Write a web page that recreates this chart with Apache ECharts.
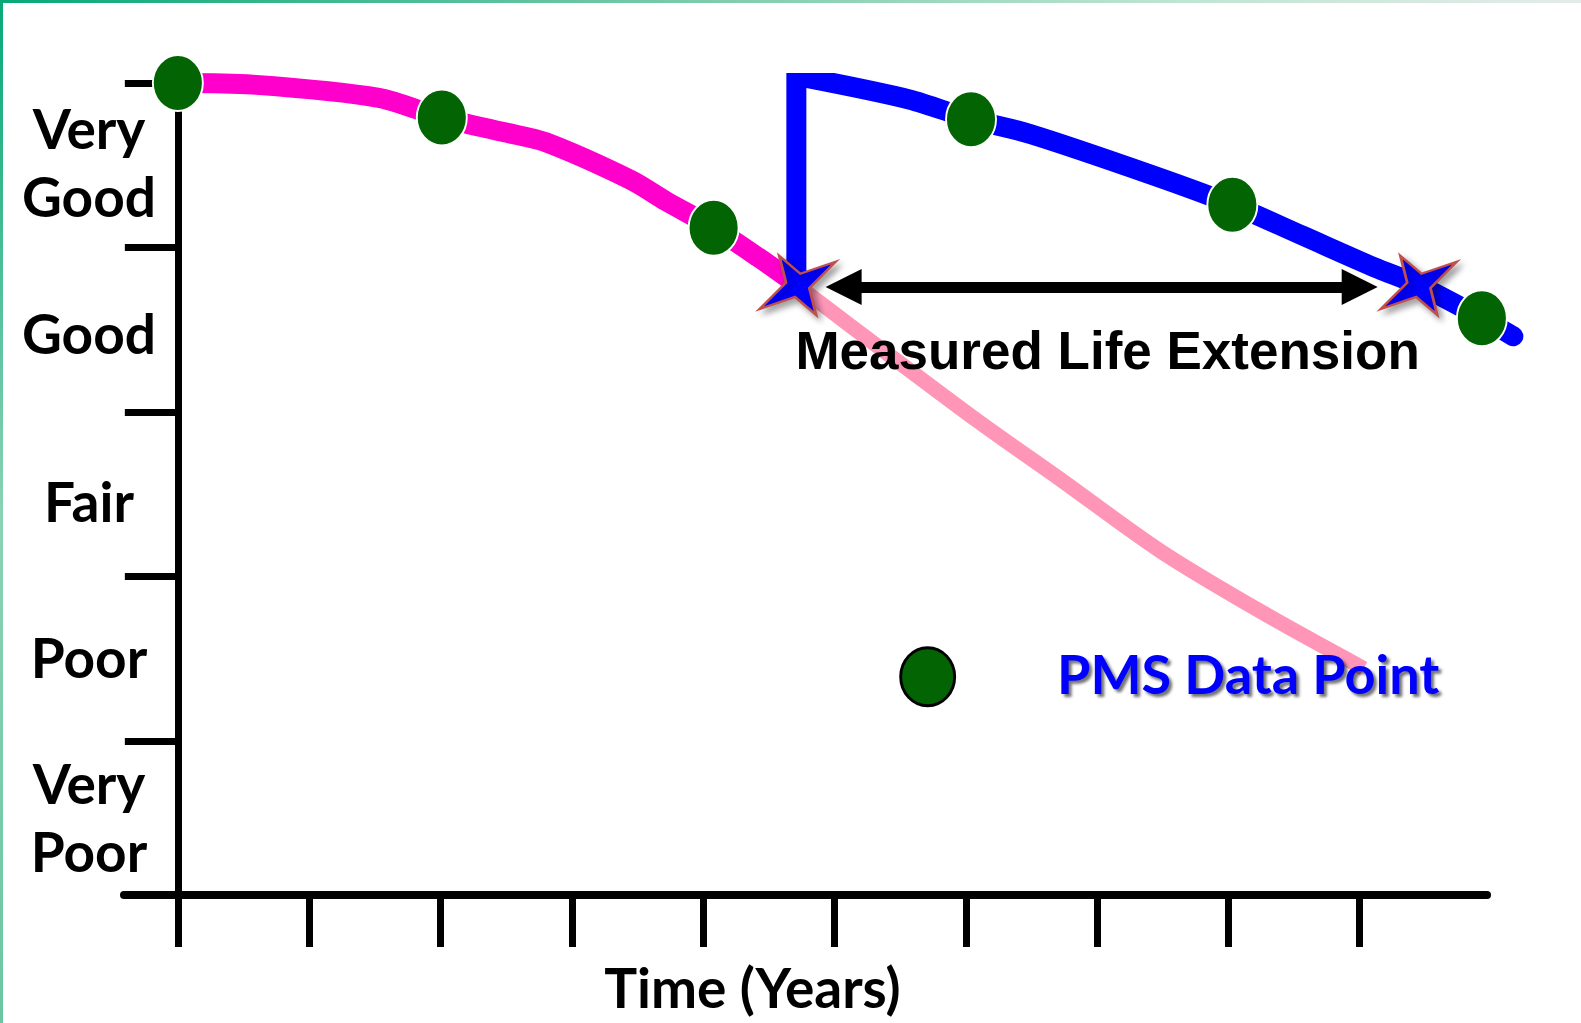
<!DOCTYPE html>
<html>
<head>
<meta charset="utf-8">
<script src="https://cdn.jsdelivr.net/npm/echarts@6/dist/echarts.min.js"></script>
<style>
html,body{margin:0;padding:0;background:#fff;}
#chart{width:1581px;height:1023px;}
</style>
</head>
<body>
<div id="chart"></div>
<script>
// ---- data (x: years, y: condition level) ----
const xTicks = [0, 1, 2, 3, 4, 5, 6, 7, 8, 9];
const yTicks = [1, 2, 3, 4, 5];
const yLabelValues = [0.52, 1.49, 2.44, 3.46, 4.5];
const yLevels = ['Very\nPoor', 'Poor', 'Fair', 'Good', 'Very\nGood'];
const originalCurve = [[0, 5.0], [0.57, 4.99], [1.53, 4.91], [2.01, 4.79], [2.49, 4.70], [2.80, 4.64], [3.45, 4.41], [3.72, 4.28], [4.08, 4.12], [4.42, 3.94], [4.72, 3.77]];
const untreatedCurve = [[4.72, 3.77], [4.88, 3.67], [6.10, 2.94], [6.72, 2.59], [7.49, 2.15], [8.26, 1.78], [9.03, 1.44]];
const treatmentJump = [[4.71, 3.77], [4.71, 5.03], [4.80, 5.03]];
const treatedCurve = [[4.80, 5.03], [5.57, 4.90], [6.04, 4.78], [6.49, 4.69], [7.42, 4.44], [8.03, 4.26], [8.57, 4.07], [9.11, 3.88], [9.45, 3.77], [9.93, 3.57], [10.17, 3.46]];
const pmsPoints = [[0, 5.0], [2.01, 4.79], [4.08, 4.12], [6.04, 4.78], [8.03, 4.26], [9.93, 3.57]];
const thresholdMarks = [[4.72, 3.77], [9.45, 3.77]];
const lifeExtension = [[5.07, 3.76], [9.0, 3.76]];
const legendPoint = [[5.71, 1.39]];
const annotationPoint = [[7.08, 3.35]];

const starPath = 'path://M38.2,-23.8 L11.7,2.7 L18.5,29.7 L-2.7,11.7 L-38.2,23.8 L-11.7,-2.7 L-18.5,-29.7 L2.7,-11.7 Z';
const triPath = 'path://M0,-10 L10,10 L-10,10 Z';

const chart = echarts.init(document.getElementById('chart'), null, {renderer: 'canvas'});
chart.setOption({
  backgroundColor: '#ffffff',
  animation: false,
  graphic: [
    {type: 'rect', shape: {x: 0, y: 0, width: 1581, height: 3}, z: 100,
     style: {fill: new echarts.graphic.LinearGradient(0, 0, 1, 0, [
       {offset: 0, color: '#08A878'}, {offset: 0.45, color: '#7FCCAC'},
       {offset: 0.75, color: '#BFE5D3'}, {offset: 1, color: '#E4ECE8'}])}},
    {type: 'rect', shape: {x: 0, y: 0, width: 3, height: 1023}, z: 100,
     style: {fill: new echarts.graphic.LinearGradient(0, 0, 0, 1, [
       {offset: 0, color: '#08A878'}, {offset: 0.5, color: '#8AD2B4'},
       {offset: 1, color: '#6CC6A2'}])}}
  ],
  grid: [
    {left: 124, right: 44, top: 83, bottom: 126, containLabel: false},
    {left: 124, right: 94, top: 83, bottom: 126, containLabel: false}
  ],
  xAxis: [
    {
      gridIndex: 0, type: 'value', min: -0.41, max: 10.35,
      axisLine: {show: false},
      axisTick: {show: true, customValues: xTicks, length: 50, lineStyle: {color: '#000', width: 7}},
      axisLabel: {show: false},
      splitLine: {show: false}
    },
    {
      gridIndex: 1, type: 'value', min: 0, max: 1,
      axisLine: {show: true, onZero: false, lineStyle: {color: '#000', width: 8}},
      axisTick: {show: false}, axisLabel: {show: false}, splitLine: {show: false},
      name: 'Time (Years)', nameLocation: 'middle', nameGap: 68,
      nameTextStyle: {fontFamily: 'Lato', fontWeight: 'bold', fontSize: 55, color: '#000', padding: [0, 106, 0, 0]}
    }
  ],
  yAxis: [
    {
      gridIndex: 0, type: 'value', min: 0.051, max: 5,
      axisLine: {show: true, onZero: true, lineStyle: {color: '#000', width: 7}},
      axisTick: {show: true, customValues: yTicks, length: 53, lineStyle: {color: '#000', width: 7}},
      axisLabel: {show: false},
      splitLine: {show: false}
    },
    {
      gridIndex: 0, type: 'value', min: 0.051, max: 5, position: 'left',
      axisLine: {show: false, onZero: false}, axisTick: {show: false},
      splitLine: {show: false},
      axisLabel: {show: true, customValues: yLabelValues, align: 'center', margin: 35,
        formatter: (v) => yLevels[yLabelValues.indexOf(v)],
        fontFamily: 'Lato', fontWeight: 'bold', fontSize: 55, lineHeight: 68, color: '#000'}
    },
    {
      gridIndex: 1, type: 'value', min: 0, max: 1, show: false
    }
  ],
  series: [
    {type: 'line', data: untreatedCurve, smooth: 0.3, symbol: 'none', z: 2,
     lineStyle: {color: '#FF96B8', width: 15, cap: 'butt'}},
    {type: 'line', data: originalCurve, smooth: 0.3, symbol: 'none', z: 3,
     lineStyle: {color: '#FF00CC', width: 20, cap: 'butt'}},
    {type: 'line', data: treatmentJump, symbol: 'none', z: 3,
     lineStyle: {color: '#0000FF', width: 20, cap: 'butt', join: 'miter'}},
    {type: 'line', data: treatedCurve, smooth: 0.3, symbol: 'none', z: 3,
     lineStyle: {color: '#0000FF', width: 20, cap: 'round'}},
    {type: 'lines', coordinateSystem: 'cartesian2d', z: 4,
     symbol: [triPath, triPath], symbolSize: [36, 36],
     lineStyle: {color: '#000', width: 11, opacity: 1, curveness: 0},
     itemStyle: {color: '#000'},
     data: [{coords: lifeExtension}]},
    {type: 'scatter', data: pmsPoints, symbol: 'circle', symbolSize: [50, 56], z: 5,
     itemStyle: {color: '#026402', borderColor: '#ffffff', borderWidth: 2, opacity: 1}},
    {type: 'scatter', data: thresholdMarks, symbol: starPath, symbolSize: [76, 59], z: 6,
     itemStyle: {color: '#0000FF', borderColor: '#C0504D', borderWidth: 2.5, opacity: 1,
       shadowBlur: 6, shadowColor: 'rgba(0,0,0,0.35)', shadowOffsetX: 4, shadowOffsetY: 4}},
    {type: 'scatter', data: legendPoint, symbol: 'circle', symbolSize: [54, 58], z: 5,
     itemStyle: {color: '#026402', borderColor: '#000', borderWidth: 3, opacity: 1},
     label: {show: true, position: 'right', distance: 101, formatter: 'PMS Data Point',
       fontFamily: 'Lato', fontWeight: 'bold', fontSize: 54, color: '#0000FF',
       textShadowColor: 'rgba(0,0,0,0.55)', textShadowBlur: 3, textShadowOffsetX: 3, textShadowOffsetY: 3}},
    {type: 'scatter', data: annotationPoint, symbolSize: 0, z: 7,
     itemStyle: {opacity: 1, color: '#000'},
     label: {show: true, position: 'inside', formatter: 'Measured Life Extension',
       fontFamily: 'Liberation Sans', fontWeight: 'bold', fontSize: 53, color: '#000'}}
  ]
});
</script>
</body>
</html>
